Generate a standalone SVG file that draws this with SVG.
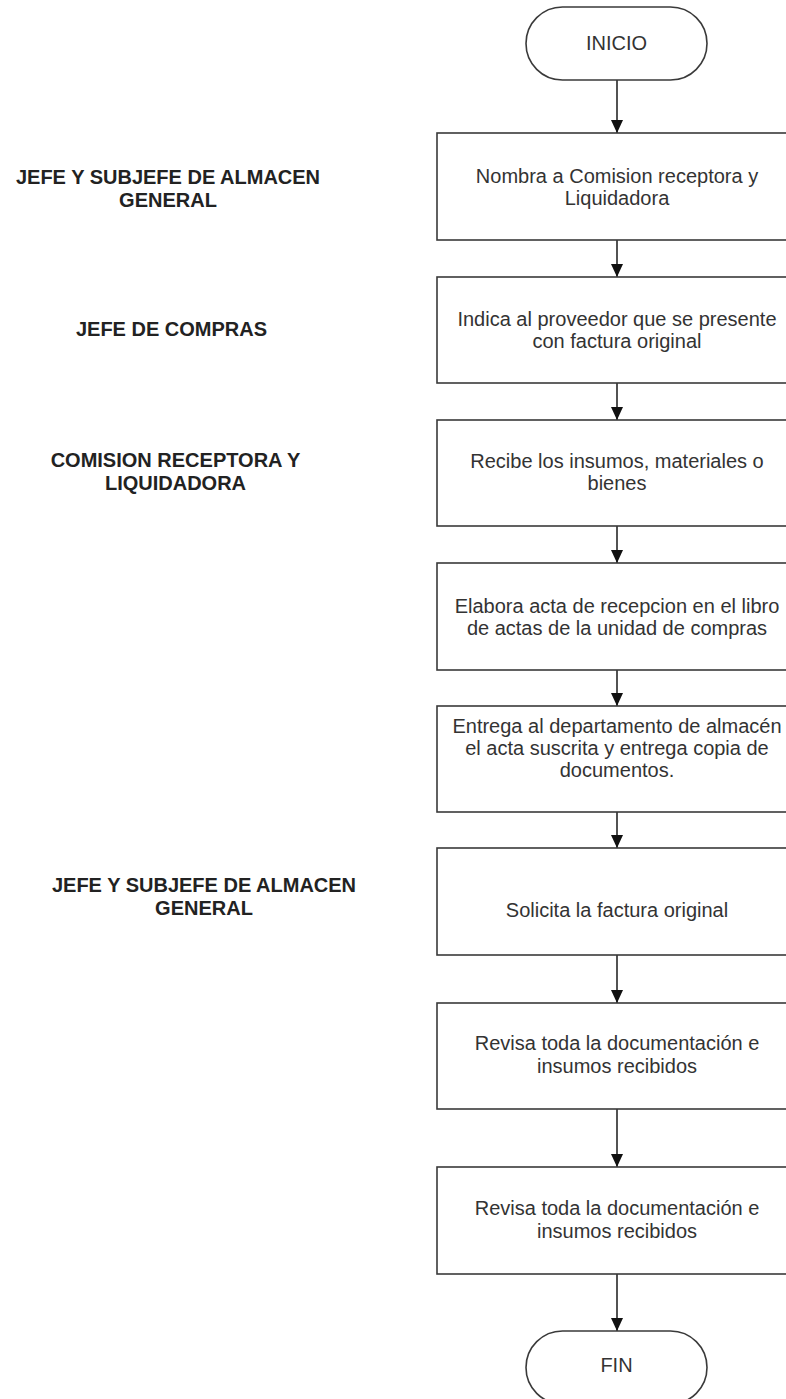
<svg xmlns="http://www.w3.org/2000/svg" width="786" height="1399" viewBox="0 0 786 1399">
<style>
.box{fill:#fff;stroke:#3a3a3a;stroke-width:1.6}
.t{font-family:"Liberation Sans",Arial,sans-serif;font-size:20px;fill:#333;text-anchor:middle}
.lbl{font-family:"Liberation Sans",Arial,sans-serif;font-size:20px;font-weight:bold;fill:#222;text-anchor:middle}
.con{stroke:#404040;stroke-width:1.8;fill:none;marker-end:url(#ah)}
</style>
<defs>
<marker id="ah" markerUnits="userSpaceOnUse" markerWidth="13" markerHeight="12" refX="13" refY="6" orient="auto" viewBox="0 0 13 12">
<path d="M0,0 L13,6 L0,12 Z" fill="#111"/>
</marker>
</defs>
<rect width="786" height="1399" fill="#fff"/>
<g id="labels">
<text class="lbl" x="168" y="184">JEFE Y SUBJEFE DE ALMACEN</text>
<text class="lbl" x="168" y="207">GENERAL</text>
<text class="lbl" x="171.5" y="336">JEFE DE COMPRAS</text>
<text class="lbl" x="175.5" y="467">COMISION RECEPTORA Y</text>
<text class="lbl" x="175.5" y="490">LIQUIDADORA</text>
<text class="lbl" x="204" y="892">JEFE Y SUBJEFE DE ALMACEN</text>
<text class="lbl" x="204" y="915">GENERAL</text>
</g>
<g id="connectors">
<line class="con" x1="617" y1="80" x2="617" y2="133"/>
<line class="con" x1="617" y1="240" x2="617" y2="277"/>
<line class="con" x1="617" y1="383" x2="617" y2="420"/>
<line class="con" x1="617" y1="526" x2="617" y2="563"/>
<line class="con" x1="617" y1="670" x2="617" y2="706"/>
<line class="con" x1="617" y1="812" x2="617" y2="848"/>
<line class="con" x1="617" y1="955" x2="617" y2="1003"/>
<line class="con" x1="617" y1="1109" x2="617" y2="1167"/>
<line class="con" x1="617" y1="1274" x2="617" y2="1331"/>
</g>
<g id="inicio">
<rect class="box" x="526" y="7" width="181" height="73" rx="36.5" ry="36.5"/>
<text class="t" x="616.5" y="50">INICIO</text>
</g>
<g id="n1">
<rect class="box" x="437" y="133" width="360" height="107"/>
<text class="t" x="617" y="183">Nombra a Comision receptora y</text>
<text class="t" x="617" y="205">Liquidadora</text>
</g>
<g id="n2">
<rect class="box" x="437" y="277" width="360" height="106"/>
<text class="t" x="617" y="326">Indica al proveedor que se presente</text>
<text class="t" x="617" y="348">con factura original</text>
</g>
<g id="n3">
<rect class="box" x="437" y="420" width="360" height="106"/>
<text class="t" x="617" y="468">Recibe los insumos, materiales o</text>
<text class="t" x="617" y="490">bienes</text>
</g>
<g id="n4">
<rect class="box" x="437" y="563" width="360" height="107"/>
<text class="t" x="617" y="613">Elabora acta de recepcion en el libro</text>
<text class="t" x="617" y="635">de actas de la unidad de compras</text>
</g>
<g id="n5">
<rect class="box" x="437" y="706" width="360" height="106"/>
<text class="t" x="617" y="733">Entrega al departamento de almacén</text>
<text class="t" x="617" y="755">el acta suscrita y entrega copia de</text>
<text class="t" x="617" y="777">documentos.</text>
</g>
<g id="n6">
<rect class="box" x="437" y="848" width="360" height="107"/>
<text class="t" x="617" y="917">Solicita la factura original</text>
</g>
<g id="n7">
<rect class="box" x="437" y="1003" width="360" height="106"/>
<text class="t" x="617" y="1050">Revisa toda la documentación e</text>
<text class="t" x="617" y="1073">insumos recibidos</text>
</g>
<g id="n8">
<rect class="box" x="437" y="1167" width="360" height="107"/>
<text class="t" x="617" y="1215">Revisa toda la documentación e</text>
<text class="t" x="617" y="1238">insumos recibidos</text>
</g>
<g id="fin">
<rect class="box" x="526" y="1331" width="181" height="73" rx="36.5" ry="36.5"/>
<text class="t" x="616.5" y="1372">FIN</text>
</g>
</svg>
